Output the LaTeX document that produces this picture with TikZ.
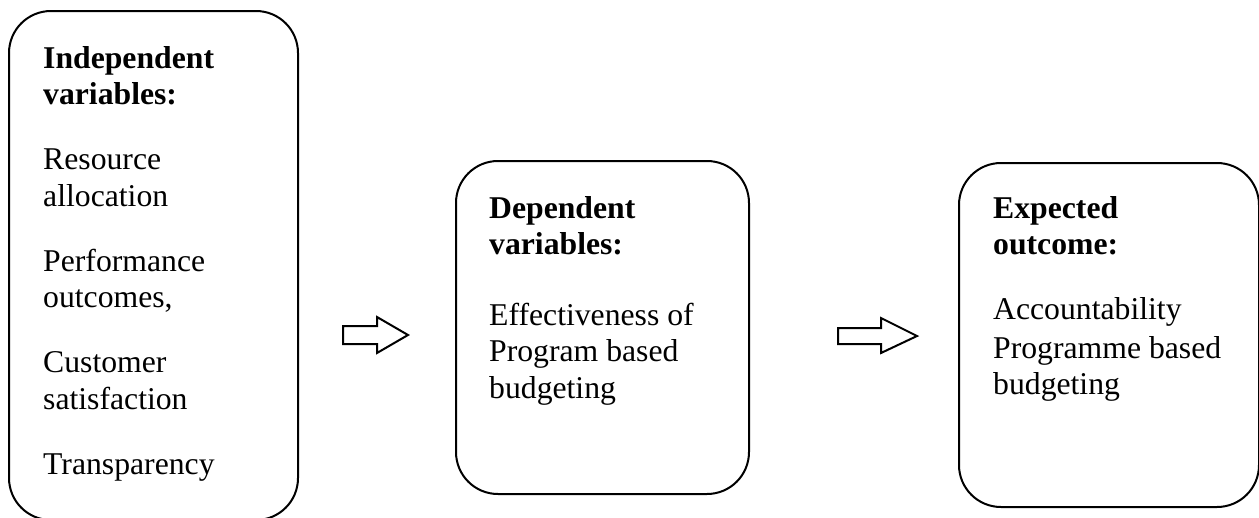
\documentclass[tikz,border=0pt]{standalone}
\usepackage{fontspec}
\setmainfont{Liberation Serif}
\begin{document}
\begin{tikzpicture}[x=1pt,y=-1pt,
  box/.style={draw=black, line width=2pt, rounded corners=42pt, inner sep=0pt, anchor=north west},
  txt/.style={anchor=base west, inner sep=0pt, font=\fontsize{31.7}{36.5}\selectfont},
  blockarrow/.style={draw=black, line width=2pt, fill=white, line join=miter}]
\useasboundingbox (0,0) rectangle (1259,517);
% boxes
\node[box, minimum width=289pt, minimum height=509pt] (b1) at (8,10) {};
\node[box, minimum width=293pt, minimum height=333pt] (b2) at (455,160) {};
\node[box, minimum width=300pt, minimum height=344pt] (b3) at (958,162) {};
% box 1 text
\node[txt] (t11) at (43,68) {\textbf{Independent}};
\node[txt] (t12) at (43,104.5) {\textbf{variables:}};
\node[txt] (t13) at (43,169.5) {Resource};
\node[txt] (t14) at (43,206) {allocation};
\node[txt] (t15) at (43,271) {Performance};
\node[txt] (t16) at (43,307.5) {outcomes,};
\node[txt] (t17) at (43,372.5) {Customer};
\node[txt] (t18) at (43,409) {satisfaction};
\node[txt] (t19) at (43,474) {Transparency};
% box 2 text
\node[txt] (t21) at (489,218) {\textbf{Dependent}};
\node[txt] (t22) at (489,254.5) {\textbf{variables:}};
\node[txt] (t23) at (489,325) {Effectiveness of};
\node[txt] (t24) at (489,361.5) {Program based};
\node[txt] (t25) at (489,398) {budgeting};
% box 3 text
\node[txt] (t31) at (993,218) {\textbf{Expected}};
\node[txt] (t32) at (993,254.5) {\textbf{outcome:}};
\node[txt] (t33) at (993,319) {Accountability};
\node[txt] (t34) at (993,358) {Programme based};
\node[txt] (t35) at (993,394.5) {budgeting};
% block arrows
\draw[blockarrow] (343,326) -- (377,326) -- (377,317) -- (408,335) -- (377,353) -- (377,344) -- (343,344) -- cycle;
\draw[blockarrow] (838,328) -- (881,328) -- (881,318) -- (917,336) -- (881,353) -- (881,344) -- (838,344) -- cycle;
\end{tikzpicture}
\end{document}
